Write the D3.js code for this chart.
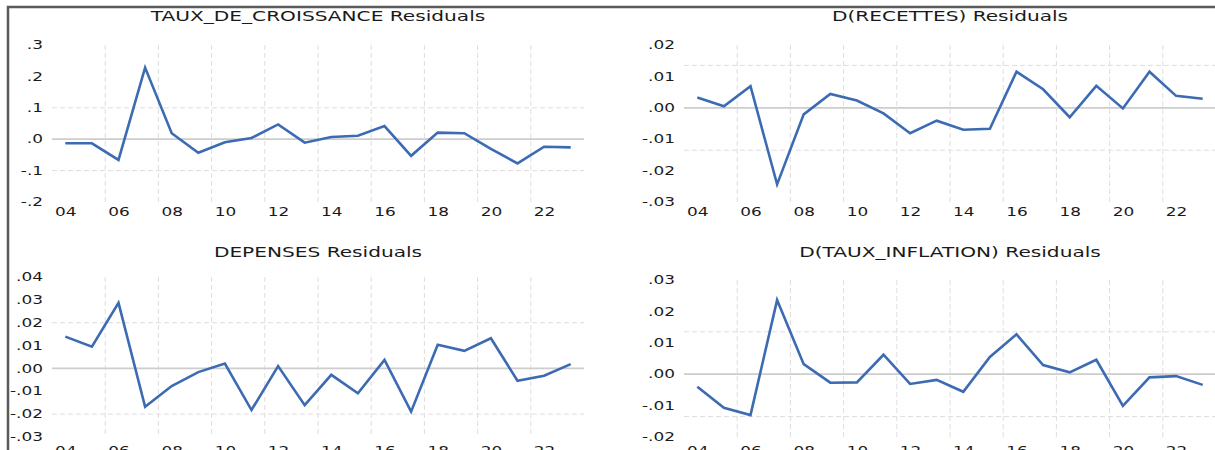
<!DOCTYPE html>
<html>
<head>
<meta charset="utf-8">
<script src="https://cdn.jsdelivr.net/npm/d3@7"></script>
<style>
  body { margin: 0; background: #fff; }
  svg { display: block; font-family: "DejaVu Sans", sans-serif; }
</style>
</head>
<body>
<svg id="chart" width="1215" height="450"></svg>
<script>
// residual series, one value per year
var years = [2004, 2005, 2006, 2007, 2008, 2009, 2010, 2011, 2012, 2013,
             2014, 2015, 2016, 2017, 2018, 2019, 2020, 2021, 2022, 2023];

var croissance = [-0.013, -0.013, -0.066, 0.228, 0.019, -0.043, -0.010, 0.004, 0.047, -0.011,
                  0.007, 0.011, 0.042, -0.053, 0.021, 0.019, -0.031, -0.077, -0.024, -0.026];
var recettes = [0.0033, 0.0005, 0.0069, -0.0244, -0.0021, 0.0044, 0.0023, -0.0018, -0.0081, -0.0041,
                -0.0070, -0.0067, 0.0115, 0.0059, -0.0030, 0.0070, -0.0002, 0.0115, 0.0038, 0.0029];
var depenses = [0.0139, 0.0095, 0.0287, -0.0168, -0.0077, -0.0016, 0.0021, -0.0182, 0.0010, -0.0161,
                -0.0028, -0.0109, 0.0037, -0.0189, 0.0104, 0.0077, 0.0132, -0.0054, -0.0032, 0.0019];
var inflation = [-0.0040, -0.0107, -0.0130, 0.0236, 0.0032, -0.0027, -0.0026, 0.0062, -0.0031, -0.0018,
                 -0.0056, 0.0055, 0.0127, 0.0029, 0.0006, 0.0046, -0.0101, -0.0010, -0.0006, -0.0034];

// x axis
var xTicks = [2004, 2006, 2008, 2010, 2012, 2014, 2016, 2018, 2020, 2022];
var xLabels = ["04", "06", "08", "10", "12", "14", "16", "18", "20", "22"];
var xGrid = [2005.5, 2007.5, 2009.5, 2011.5, 2013.5, 2015.5, 2017.5, 2019.5, 2021.5];

// y axes
var yTicks1 = [0.3, 0.2, 0.1, 0, -0.1, -0.2];
var yLabels1 = [".3", ".2", ".1", ".0", "-.1", "-.2"];
var yGrid1 = [0.1, -0.1];
var yTicks2 = [0.02, 0.01, 0, -0.01, -0.02, -0.03];
var yLabels2 = [".02", ".01", ".00", "-.01", "-.02", "-.03"];
var yGrid2 = [0.0135, -0.0135];
var yTicks3 = [0.04, 0.03, 0.02, 0.01, 0, -0.01, -0.02, -0.03];
var yLabels3 = [".04", ".03", ".02", ".01", ".00", "-.01", "-.02", "-.03"];
var yGrid3 = [0.02, -0.02];
var yTicks4 = [0.03, 0.02, 0.01, 0, -0.01, -0.02];
var yLabels4 = [".03", ".02", ".01", ".00", "-.01", "-.02"];
var yGrid4 = [0.0135, -0.0135];

var panels = [
  {title: "TAUX_DE_CROISSANCE Residuals", values: croissance, ticks: yTicks1, labels: yLabels1, grid: yGrid1,
   domain: [-0.2, 0.3], x: [52, 584], y: [202, 45], titleY: 16, xLabY: 212},
  {title: "D(RECETTES) Residuals", values: recettes, ticks: yTicks2, labels: yLabels2, grid: yGrid2,
   domain: [-0.03, 0.02], x: [684, 1216], y: [202, 45], titleY: 16, xLabY: 212},
  {title: "DEPENSES Residuals", values: depenses, ticks: yTicks3, labels: yLabels3, grid: yGrid3,
   domain: [-0.03, 0.04], x: [52, 584], y: [437, 277], titleY: 252.5, xLabY: 451},
  {title: "D(TAUX_INFLATION) Residuals", values: inflation, ticks: yTicks4, labels: yLabels4, grid: yGrid4,
   domain: [-0.02, 0.03], x: [684, 1216], y: [437, 280], titleY: 252.5, xLabY: 451}
];

var svg = d3.select("#chart");
var stretchK = 1.47; // the picture is wide-stretched

function stretch(sel) {
  sel.each(function() {
    var w = this.getComputedTextLength();
    d3.select(this).attr("textLength", w * stretchK).attr("lengthAdjust", "spacingAndGlyphs");
  });
}

panels.forEach(function(p) {
  var x = d3.scaleLinear().domain([2003.5, 2023.5]).range(p.x);
  var y = d3.scaleLinear().domain(p.domain).range(p.y);
  var g = svg.append("g");

  // vertical grid
  g.selectAll(".vg").data(xGrid).enter().append("line")
    .attr("x1", d => x(d)).attr("x2", d => x(d))
    .attr("y1", p.y[1]).attr("y2", p.y[0])
    .attr("stroke", "#dedede").attr("stroke-width", 1).attr("stroke-dasharray", "5,3");

  // horizontal grid
  g.selectAll(".hg").data(p.grid).enter().append("line")
    .attr("x1", p.x[0]).attr("x2", p.x[1])
    .attr("y1", d => y(d)).attr("y2", d => y(d))
    .attr("stroke", "#dedede").attr("stroke-width", 1).attr("stroke-dasharray", "5,3");

  // zero line
  g.append("line")
    .attr("x1", p.x[0]).attr("x2", p.x[1])
    .attr("y1", y(0)).attr("y2", y(0))
    .attr("stroke", "#cdcdcd").attr("stroke-width", 1.8);

  // y axis labels
  var yAxis = d3.axisLeft(y).tickValues(p.ticks).tickSize(0).tickPadding(9)
    .tickFormat((d, i) => p.labels[i]);
  var ya = g.append("g").attr("transform", "translate(" + p.x[0] + ",0)").call(yAxis);
  ya.select(".domain").remove();
  ya.selectAll("text").attr("font-size", 11.5).attr("fill", "#1a1a1a")
    .attr("font-family", "DejaVu Sans, sans-serif").call(stretch);

  // x axis labels
  var xAxis = d3.axisBottom(x).tickValues(xTicks).tickSize(0).tickPadding(0)
    .tickFormat((d, i) => xLabels[i]);
  var xa = g.append("g").attr("transform", "translate(0," + p.xLabY + ")").call(xAxis);
  xa.select(".domain").remove();
  xa.selectAll("text").attr("y", 0).attr("dy", "0.36em").attr("font-size", 11.5).attr("fill", "#1a1a1a")
    .attr("font-family", "DejaVu Sans, sans-serif").call(stretch);

  // series
  var line = d3.line().x((d, i) => x(years[i])).y(d => y(d));
  g.append("path").datum(p.values)
    .attr("d", line).attr("fill", "none")
    .attr("stroke", "#3c6bb3").attr("stroke-width", 2.6).attr("stroke-linejoin", "miter");

  // title
  g.append("text")
    .attr("x", (p.x[0] + p.x[1]) / 2).attr("y", p.titleY).attr("dy", "0.36em")
    .attr("text-anchor", "middle").attr("font-size", 13.7).attr("fill", "#1a1a1a")
    .text(p.title).call(stretch);
});

// outer frame (left and top edges)
svg.append("path")
  .attr("d", "M8,450 L8,7 L1215,7")
  .attr("fill", "none").attr("stroke", "#5a5a5a").attr("stroke-width", 2.5);
</script>
</body>
</html>
